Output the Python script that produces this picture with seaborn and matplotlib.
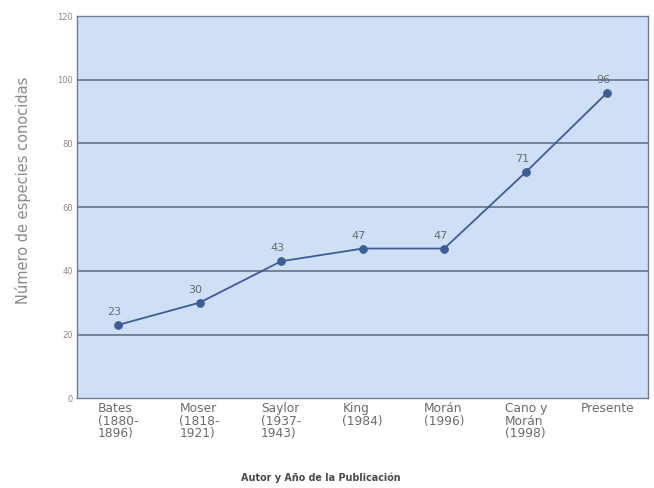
import matplotlib
matplotlib.use("Agg")
import matplotlib.pyplot as plt
import seaborn as sns
import pandas as pd

categories = [
    "Bates\n(1880-\n1896)",
    "Moser\n(1818-\n1921)",
    "Saylor\n(1937-\n1943)",
    "King\n(1984)",
    "Morán\n(1996)",
    "Cano y\nMorán\n(1998)",
    "Presente",
]
species = [23, 30, 43, 47, 47, 71, 96]
y_ticks = [0, 20, 40, 60, 80, 100, 120]

df = pd.DataFrame({"pos": range(len(categories)), "species": species})

sns.set_style("white")
plt.rcParams["font.family"] = ["DejaVu Sans"]

fig = plt.figure(figsize=(6.54, 4.88), dpi=100)
ax = fig.add_axes([0.118, 0.184, 0.873, 0.783])
ax.set_facecolor("#cfe0f6")

line_color = "#3d5d99"
sns.lineplot(data=df, x="pos", y="species", ax=ax, color=line_color,
             linewidth=1.3, marker="o", markersize=5.5,
             markeredgecolor=line_color, zorder=3)

for x, v in zip(df["pos"], df["species"]):
    ax.text(x - 0.05, v + 2.5, str(v), ha="center", va="bottom",
            fontsize=8, color="#6b6b6b")

ax.set_xlim(-0.5, len(categories) - 0.5)
ax.set_ylim(0, 120)
ax.set_yticks(y_ticks)
ax.set_yticklabels([str(t) for t in y_ticks], fontsize=6, color="#8a8a8a")
ax.set_xticks(range(len(categories)))
ax.set_xticklabels(categories, fontsize=8.8, color="#6b6b6b",
                   multialignment="left", linespacing=0.95)
ax.tick_params(axis="both", length=0, pad=3)

for t in y_ticks[1:-1]:
    ax.axhline(t, color="#5b6a80", linewidth=1.1, zorder=1)

for side in ["left", "right", "top", "bottom"]:
    ax.spines[side].set_color("#6e7d94")
    ax.spines[side].set_linewidth(1.0)

ax.set_xlabel("Autor y Año de la Publicación", fontsize=6.9,
              fontweight="heavy", color="#4a4a4a")
ax.xaxis.set_label_coords(0.426, -0.195)
ax.set_ylabel("Número de especies conocidas", fontsize=10.5,
              color="#8a8a8a")
ax.yaxis.set_label_coords(-0.08, 0.545)

fig.savefig("out.png", dpi=100)
